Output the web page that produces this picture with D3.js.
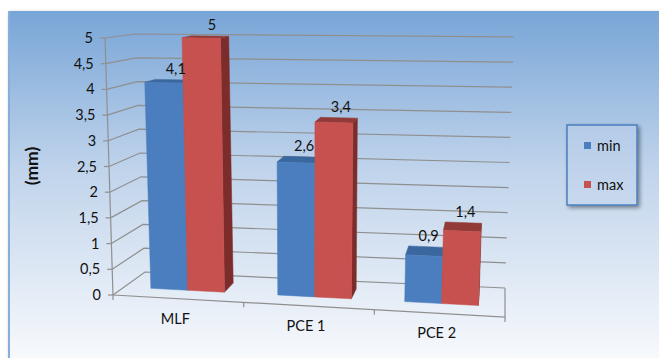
<!DOCTYPE html>
<html>
<head>
<meta charset="utf-8">
<script src="https://cdn.jsdelivr.net/npm/d3@7"></script>
<style>
  html, body { margin: 0; padding: 0; background: #ffffff; }
  svg { display: block; font-family: Lato, "Open Sans", "Liberation Sans", sans-serif; }
</style>
</head>
<body>
<svg id="chart" width="659" height="358"></svg>
<script>
// ---- data ----
const categories = ["MLF", "PCE 1", "PCE 2"];
const seriesNames = ["min", "max"];
const minValues = [4.1, 2.6, 0.9];
const maxValues = [5, 3.4, 1.4];
const yTicks = [0, 0.5, 1, 1.5, 2, 2.5, 3, 3.5, 4, 4.5, 5];
const yTitle = "(mm)";

const seriesValues = { min: minValues, max: maxValues };
const colors = {
  min: { front: "#4a7ebf", side: "#345d90", top: "#3a679d" },
  max: { front: "#c6514e", side: "#7c2c2b", top: "#923a37" }
};

const svg = d3.select("#chart");
const W = 659, H = 358;
const fontSize = 14.5;

// ---- defs: background gradient, shadows ----
const defs = svg.append("defs");
const bg = defs.append("linearGradient").attr("id", "bg").attr("x1", 0).attr("y1", 0).attr("x2", 0).attr("y2", 1);
bg.append("stop").attr("offset", "0").attr("stop-color", "#78a5d7");
bg.append("stop").attr("offset", "0.45").attr("stop-color", "#bfd3eb");
bg.append("stop").attr("offset", "1").attr("stop-color", "#f7f9fc");

const lg = defs.append("linearGradient").attr("id", "legbg").attr("x1", 0).attr("y1", 0).attr("x2", 0).attr("y2", 1);
lg.append("stop").attr("offset", "0").attr("stop-color", "#b5cbe8");
lg.append("stop").attr("offset", "1").attr("stop-color", "#c8d9ee");

const sh = defs.append("filter").attr("id", "shadow").attr("x", "-10%").attr("y", "-10%").attr("width", "130%").attr("height", "130%");
sh.append("feGaussianBlur").attr("in", "SourceAlpha").attr("stdDeviation", 2).attr("result", "b");
sh.append("feOffset").attr("in", "b").attr("dx", 2).attr("dy", 2).attr("result", "o");
sh.append("feComponentTransfer").attr("in", "o").attr("result", "o2")
  .append("feFuncA").attr("type", "linear").attr("slope", 0.45);
const m = sh.append("feMerge");
m.append("feMergeNode").attr("in", "o2");
m.append("feMergeNode").attr("in", "SourceGraphic");

// ---- chart area background ----
svg.append("rect").attr("x", 8).attr("y", 11).attr("width", W - 8).attr("height", H - 11)
  .attr("fill", "url(#bg)").attr("filter", "url(#shadow)");
svg.append("line").attr("x1", 9).attr("x2", 9).attr("y1", 11).attr("y2", H)
  .attr("stroke", "#86afdc").attr("stroke-width", 2);

// ---- 3D box: screen positions of the plot cube corners ----
const box = {
  front: { lb: [113, 295], rb: [505, 317], lt: [105, 38], rt: [515, 46] },
  back:  { lb: [145, 272], rb: [505, 288], lt: [135, 34], rt: [514, 37] }
};
const lerp = (a, b, t) => [a[0] + (b[0] - a[0]) * t, a[1] + (b[1] - a[1]) * t];
function plane(p, u, v) {
  return lerp(lerp(p.lb, p.rb, u), lerp(p.lt, p.rt, u), v);
}
// u: across categories, v: value height, w: depth (0 front, 1 back)
function project(u, v, w) {
  return lerp(plane(box.front, u, v), plane(box.back, u, v), w);
}

// ---- scales ----
const x = d3.scaleBand().domain(categories).range([0, 1]).paddingInner(0.42).paddingOuter(0.21);
const xs = d3.scaleBand().domain(seriesNames).range([0, x.bandwidth()]);
const y = d3.scaleLinear().domain([0, 5]).range([0, 1]);
const depth = d3.scaleLinear().domain([0, 1]).range([0.35, 0.72]);
const w0 = depth(0), w1 = depth(1);

const locale = d3.formatLocale({ decimal: ",", thousands: ".", grouping: [3], currency: ["", ""] });
const fmt = locale.format(".1~f");

const line = d3.line();
const gridColor = "#8f8f8f";

// ---- walls: grid lines on left wall and back wall ----
const grid = svg.append("g").attr("fill", "none").attr("stroke", gridColor).attr("stroke-width", 1.2);
yTicks.forEach(t => {
  const v = y(t);
  grid.append("path").attr("d", line([project(0, v, 0), project(0, v, 1), project(1, v, 1)]));
});
// floor front and right edges
grid.append("path").attr("d", line([project(0, 0, 0), project(1, 0, 0), project(1, 0, 1)]));
// vertical value axis
grid.append("path").attr("d", line([project(0, 0, 0), project(0, 1, 0)]));

// value axis ticks and labels
const yAxisG = svg.append("g");
yTicks.forEach(t => {
  const p = project(0, y(t), 0);
  yAxisG.append("line").attr("x1", p[0] - 5).attr("x2", p[0]).attr("y1", p[1]).attr("y2", p[1])
    .attr("stroke", gridColor).attr("stroke-width", 1.2);
  yAxisG.append("text").attr("x", p[0] - 12).attr("y", p[1]).attr("dy", "0.35em")
    .attr("text-anchor", "end").attr("font-size", fontSize).attr("fill", "#111").text(fmt(t));
});

// category ticks and labels
const catG = svg.append("g");
d3.range(categories.length + 1).forEach(i => {
  const p = project(i * x.step(), 0, 0);
  catG.append("line").attr("x1", p[0]).attr("x2", p[0]).attr("y1", p[1]).attr("y2", p[1] + 5)
    .attr("stroke", gridColor).attr("stroke-width", 1.2);
});
categories.forEach(c => {
  const p = project(x(c) + x.bandwidth() / 2, 0, 0);
  catG.append("text").attr("x", p[0] - 3).attr("y", p[1] + 25)
    .attr("text-anchor", "middle").attr("font-size", fontSize).attr("fill", "#111").text(c);
});

// ---- bars ----
const barsG = svg.append("g");
const labelsG = svg.append("g");
categories.forEach((c, i) => {
  seriesNames.forEach(s => {
    const val = seriesValues[s][i];
    const u0 = x(c) + xs(s), u1 = u0 + xs.bandwidth(), vt = y(val);
    const col = colors[s];
    const faces = [
      { pts: [project(u1, 0, w0), project(u1, 0, w1), project(u1, vt, w1), project(u1, vt, w0)], fill: col.side },
      { pts: [project(u0, vt, w0), project(u1, vt, w0), project(u1, vt, w1), project(u0, vt, w1)], fill: col.top },
      { pts: [project(u0, 0, w0), project(u1, 0, w0), project(u1, vt, w0), project(u0, vt, w0)], fill: col.front }
    ];
    faces.forEach(f => {
      barsG.append("path").attr("d", line(f.pts) + "Z").attr("fill", f.fill)
        .attr("stroke", f.fill).attr("stroke-width", 0.5).attr("stroke-linejoin", "round");
    });
    const lp = project((u0 + u1) / 2, vt, w1);
    labelsG.append("text").attr("x", lp[0] + 2).attr("y", lp[1] - 6)
      .attr("text-anchor", "middle").attr("font-size", fontSize).attr("fill", "#111").text(fmt(val));
  });
});

// ---- axis title ----
svg.append("text").attr("transform", "translate(38,166) rotate(-90)")
  .attr("text-anchor", "middle").attr("font-size", 17.5).attr("font-weight", "bold")
  .attr("fill", "#111").text(yTitle);

// ---- legend ----
const leg = svg.append("g").attr("transform", "translate(567,125)");
leg.append("rect").attr("width", 70).attr("height", 80).attr("fill", "url(#legbg)")
  .attr("stroke", "#4a7fc0").attr("stroke-width", 1.5).attr("filter", "url(#shadow)");
seriesNames.forEach((s, k) => {
  const gy = 17 + k * 39;
  leg.append("rect").attr("x", 17).attr("y", gy).attr("width", 7).attr("height", 7).attr("fill", colors[s].front);
  leg.append("text").attr("x", 30).attr("y", gy + 3.5).attr("dy", "0.35em")
    .attr("font-size", fontSize).attr("fill", "#111").text(s);
});
</script>
</body>
</html>
